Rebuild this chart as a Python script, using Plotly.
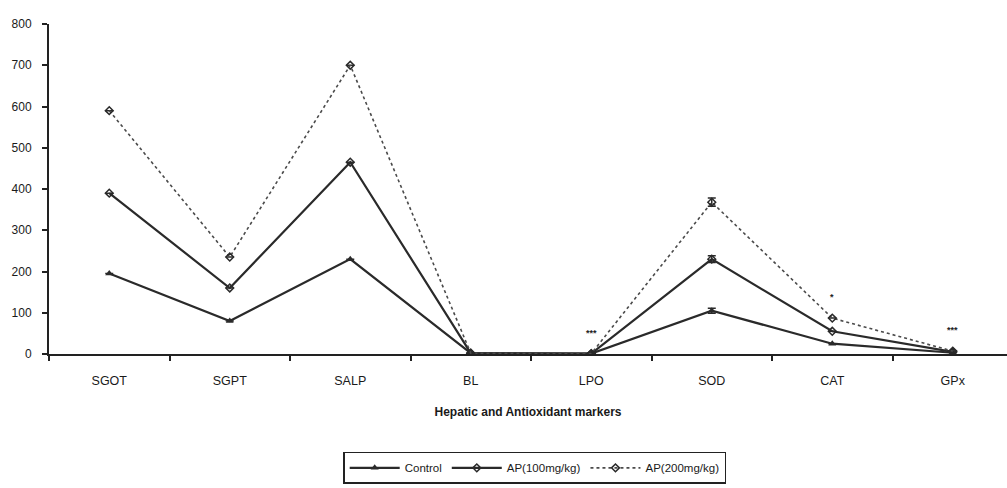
import plotly.graph_objects as go

categories = ["SGOT", "SGPT", "SALP", "BL", "LPO", "SOD", "CAT", "GPx"]
control = [195, 80, 230, 2, 1, 105, 25, 3]
ap100 = [390, 160, 465, 2, 1, 230, 55, 5]
ap200 = [590, 235, 700, 2, 1, 368, 87, 7]
err_control = [0, 0, 0, 0, 0, 6, 0, 0]
err_ap100 = [0, 0, 0, 0, 0, 8, 0, 0]
err_ap200 = [0, 0, 0, 0, 0, 10, 0, 0]
sig_labels = ["", "", "", "", "***", "", "*", "***"]
y_ticks = [0, 100, 200, 300, 400, 500, 600, 700, 800]

col = "#2a2a2a"
font = "Liberation Sans, Arial, sans-serif"

fig = go.Figure()
fig.add_trace(go.Scatter(
    x=categories, y=control, name="Control", mode="lines+markers",
    line=dict(color=col, width=2.2), marker=dict(symbol="triangle-up", size=7, color=col),
    error_y=dict(type="data", array=err_control, color=col, thickness=1.5, width=4)))
fig.add_trace(go.Scatter(
    x=categories, y=ap100, name="AP(100mg/kg)", mode="lines+markers",
    line=dict(color=col, width=2.2), marker=dict(symbol="diamond-open", size=6, color=col, line=dict(width=1.5)),
    error_y=dict(type="data", array=err_ap100, color=col, thickness=1.5, width=4)))
fig.add_trace(go.Scatter(
    x=categories, y=ap200, name="AP(200mg/kg)", mode="lines+markers",
    line=dict(color="#4a4a4a", width=1.6, dash="dot"), marker=dict(symbol="diamond-open", size=6, color=col, line=dict(width=1.5)),
    error_y=dict(type="data", array=err_ap200, color=col, thickness=1.5, width=4)))

for c, s, v in zip(categories, sig_labels, ap200):
    if s:
        fig.add_annotation(x=c, y=v, text="<b>" + s + "</b>", showarrow=False, yshift=21,
                           font=dict(size=9, color="#222222", family=font))

fig.update_layout(
    width=1007, height=488,
    margin=dict(l=49, r=0, t=24, b=134),
    plot_bgcolor="white", paper_bgcolor="white",
    font=dict(family=font, color="#1a1a1a", size=12),
    showlegend=True,
    legend=dict(orientation="h", x=0.507, xanchor="center", y=-0.345, yanchor="middle",
                bordercolor="#222222", borderwidth=1.5, font=dict(size=11.5, color="#1a1a1a"),
                itemwidth=50, tracegroupgap=0),
    xaxis=dict(type="category", range=[-0.5, 7.45], showline=True, linecolor="#222222", linewidth=2,
               ticks="outside", tickson="boundaries", ticklen=5, tickcolor="#222222", tickwidth=1.5,
               showgrid=False, zeroline=False, tickfont=dict(size=12.5), ticklabelstandoff=14,
               title=dict(text="<b>Hepatic and Antioxidant markers</b>", font=dict(size=12), standoff=21)),
    yaxis=dict(range=[0, 800], tickvals=y_ticks, showline=True, linecolor="#222222", linewidth=2,
               ticks="outside", ticklen=5, tickcolor="#222222", tickwidth=1.5, showgrid=False, zeroline=False,
               tickfont=dict(size=12), ticklabelstandoff=8),
)

fig.write_html("out.html")
